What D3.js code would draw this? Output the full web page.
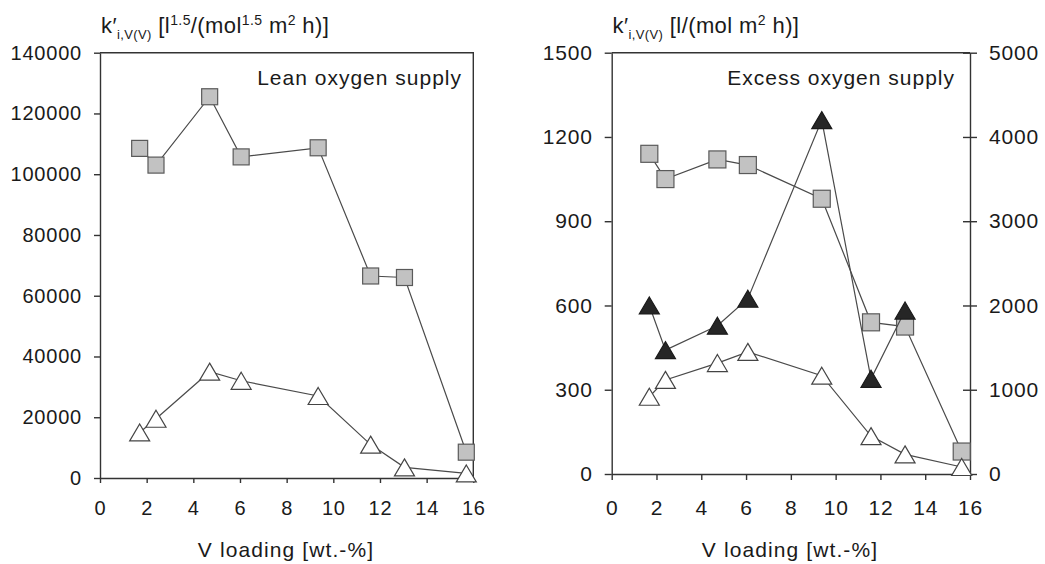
<!DOCTYPE html>
<html>
<head>
<meta charset="utf-8">
<script src="https://cdn.jsdelivr.net/npm/d3@7"></script>
<style>
  html, body { margin: 0; padding: 0; background: #fff; }
  svg { display: block; font-family: "Liberation Sans", Arial, sans-serif; }
  .tick text { fill: #1a1a1a; }
</style>
</head>
<body>
<svg id="chart" width="1045" height="564"></svg>
<script>
// V loading of the catalysts [wt.-%]
const leanLoading   = [1.7, 2.4, 4.7, 6.05, 9.35, 11.6, 13.05, 15.7];
const excessLoading = [1.68, 2.4, 4.72, 6.08, 9.38, 11.58, 13.1, 15.63];

// Lean oxygen supply, rate constants [l^1.5/(mol^1.5 m^2 h)]
const leanSquares   = [108500, 103000, 125500, 105700, 108700, 66500, 66000, 8500];
const leanTriangles = [15000, 19500, 35000, 32000, 27000, 11000, 3500, 1500];

// Excess oxygen supply, rate constants [l/(mol m^2 h)]
const excessSquares        = [1140, 1050, 1120, 1100, 980, 540, 525, 80];
const excessTriangles      = [275, 335, 395, 435, 350, 135, 70, 25];
const excessBlackTriangles = [2000, 1470, 1760, 2080, 4200, 1130, 1940]; // secondary axis

// Axis ticks
const xTicks          = [0, 2, 4, 6, 8, 10, 12, 14, 16];
const leanYTicks      = [0, 20000, 40000, 60000, 80000, 100000, 120000, 140000];
const excessYTicks    = [0, 300, 600, 900, 1200, 1500];
const excessY2Ticks   = [0, 1000, 2000, 3000, 4000, 5000];

const svg = d3.select("#chart");
const LINE = "#4a4a4a";
const AXIS = "#333";

function pairs(xs, ys) { return ys.map((v, i) => [xs[i], v]); }

function trianglePath(cx, cy, w, h) {
  return `M${cx},${cy - h / 2}L${cx + w / 2},${cy + h / 2}L${cx - w / 2},${cy + h / 2}Z`;
}

function styleAxis(fontSize) {
  return g => {
    g.selectAll(".domain").attr("stroke", AXIS).attr("stroke-width", 1.4);
    g.selectAll(".tick line").attr("stroke", AXIS).attr("stroke-width", 1.4);
    g.selectAll(".tick text")
      .attr("font-size", fontSize)
      .attr("letter-spacing", "0.8px")
      .attr("fill", "#1a1a1a");
  };
}

function drawSeries(g, x, y, pts, kind, size) {
  g.append("path")
    .datum(pts)
    .attr("fill", "none")
    .attr("stroke", LINE)
    .attr("stroke-width", 1.2)
    .attr("d", d3.line().x(d => x(d[0])).y(d => y(d[1])));
  const m = g.append("g");
  if (kind === "square") {
    m.selectAll("rect").data(pts).join("rect")
      .attr("x", d => x(d[0]) - size / 2)
      .attr("y", d => y(d[1]) - size / 2)
      .attr("width", size).attr("height", size)
      .attr("fill", "#c2c2c2").attr("stroke", "#5a5a5a").attr("stroke-width", 1.2);
  } else {
    m.selectAll("path").data(pts).join("path")
      .attr("d", d => trianglePath(x(d[0]), y(d[1]), size, size * 0.85))
      .attr("fill", kind === "black" ? "#262626" : "#fff")
      .attr("stroke", kind === "black" ? "#1a1a1a" : "#444")
      .attr("stroke-width", 1.2);
  }
}

// Axis title with sub- and superscripts; "shift" returns the baseline
function title(x, yBase, parts) {
  const t = svg.append("text").attr("x", x).attr("y", yBase)
    .attr("font-size", 22).attr("fill", "#1a1a1a").attr("letter-spacing", "0.4px");
  parts.forEach(p => {
    const s = t.append("tspan").text(p.t);
    if (p.sub) s.attr("font-size", 13).attr("dy", 6);
    if (p.sup) s.attr("font-size", 14).attr("dy", -8);
    if (p.shift) s.attr("dy", p.shift);
  });
  return t;
}

// ---------- Left panel: lean oxygen supply ----------
{
  const x = d3.scaleLinear().domain([0, 16]).range([100, 473.3]);
  const y = d3.scaleLinear().domain([0, 140000]).range([478, 52.7]);
  const g = svg.append("g");

  // frame (top and right)
  g.append("path")
    .attr("d", `M${x(0)},${y(140000)}H${x(16)}V${y(0)}`)
    .attr("fill", "none").attr("stroke", AXIS).attr("stroke-width", 1.4);

  g.append("g").attr("transform", `translate(0,${y(0)})`)
    .call(d3.axisBottom(x).tickValues(xTicks).tickSize(5).tickPadding(18).tickSizeOuter(0))
    .call(styleAxis(20));
  g.append("g").attr("transform", `translate(${x(0)},0)`)
    .call(d3.axisLeft(y).tickValues(leanYTicks).tickSize(6).tickPadding(12).tickSizeOuter(0)
      .tickFormat(d3.format("d")))
    .call(styleAxis(20));

  drawSeries(g, x, y, pairs(leanLoading, leanSquares), "square", 16);
  drawSeries(g, x, y, pairs(leanLoading, leanTriangles), "white", 20);

  g.append("text").attr("x", 462).attr("y", 85).attr("text-anchor", "end")
    .attr("font-size", 21).attr("letter-spacing", "1px").attr("fill", "#1a1a1a")
    .text("Lean oxygen supply");

  g.append("text").attr("x", 286).attr("y", 557).attr("text-anchor", "middle")
    .attr("font-size", 21).attr("letter-spacing", "1.1px").attr("fill", "#1a1a1a")
    .text("V loading [wt.-%]");

  title(101, 33, [
    { t: "k′" }, { t: "i,V(V)", sub: true }, { t: " [l", shift: -6 }, { t: "1.5", sup: true },
    { t: "/(mol", shift: 8 }, { t: "1.5", sup: true }, { t: " m", shift: 8 }, { t: "2", sup: true },
    { t: " h)]", shift: 8 }
  ]);
}

// ---------- Right panel: excess oxygen supply ----------
{
  const x = d3.scaleLinear().domain([0, 16]).range([611.7, 970]);
  const y = d3.scaleLinear().domain([0, 1500]).range([474, 52.7]);
  const y2 = d3.scaleLinear().domain([0, 5000]).range([474, 52.7]);
  const g = svg.append("g");

  g.append("line")
    .attr("x1", x(0)).attr("x2", x(16)).attr("y1", y(1500)).attr("y2", y(1500))
    .attr("stroke", AXIS).attr("stroke-width", 1.4);

  g.append("g").attr("transform", `translate(0,${y(0)})`)
    .call(d3.axisBottom(x).tickValues(xTicks).tickSize(6).tickPadding(20).tickSizeOuter(0))
    .call(styleAxis(21));
  g.append("g").attr("transform", `translate(${x(0)},0)`)
    .call(d3.axisLeft(y).tickValues(excessYTicks).tickSize(7).tickPadding(12).tickSizeOuter(0)
      .tickFormat(d3.format("d")))
    .call(styleAxis(21));
  const right = g.append("g").attr("transform", `translate(${x(16)},0)`)
    .call(d3.axisRight(y2).tickValues(excessY2Ticks).tickSize(7).tickPadding(12).tickSizeOuter(0)
      .tickFormat(d3.format("d")))
    .call(styleAxis(21));
  right.selectAll(".tick line").attr("x1", -7);

  drawSeries(g, x, y, pairs(excessLoading, excessSquares), "square", 17);
  drawSeries(g, x, y2, pairs(excessLoading, excessBlackTriangles), "black", 20);
  drawSeries(g, x, y, pairs(excessLoading, excessTriangles), "white", 20);

  g.append("text").attr("x", 955).attr("y", 85).attr("text-anchor", "end")
    .attr("font-size", 21).attr("letter-spacing", "1px").attr("fill", "#1a1a1a")
    .text("Excess oxygen supply");

  g.append("text").attr("x", 790).attr("y", 557).attr("text-anchor", "middle")
    .attr("font-size", 21).attr("letter-spacing", "1.1px").attr("fill", "#1a1a1a")
    .text("V loading [wt.-%]");

  title(612.5, 33, [
    { t: "k′" }, { t: "i,V(V)", sub: true }, { t: " [l/(mol m", shift: -6 }, { t: "2", sup: true },
    { t: " h)]", shift: 8 }
  ]);
}
</script>
</body>
</html>
